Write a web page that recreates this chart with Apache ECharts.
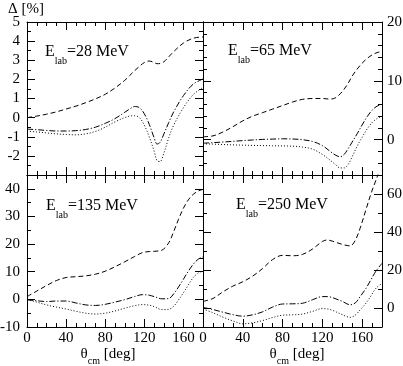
<!DOCTYPE html>
<html><head><meta charset="utf-8">
<script src="https://cdn.jsdelivr.net/npm/echarts@6/dist/echarts.min.js"></script>
<style>html,body{margin:0;padding:0;background:#fff}#c{width:403px;height:366px}</style>
</head><body><div id="c"></div>
<script>
// ---- data (theta in deg, Delta in %) ----
const theta28   = [0,10,20,30,40,50,60,70,80,90,100,105,110,115,120,125,130,133,136,140,145,150,160,170,180];
const dashed28  = [0,0.08,0.18,0.3,0.45,0.6,0.78,0.98,1.22,1.55,1.95,2.2,2.45,2.68,2.88,2.96,2.88,2.82,2.83,2.92,3.18,3.45,3.9,4.15,4.22];
const dashdot28 = [-0.6,-0.63,-0.67,-0.7,-0.7,-0.68,-0.62,-0.5,-0.3,-0.05,0.28,0.45,0.58,0.52,0.2,-0.35,-1.05,-1.38,-1.3,-0.85,-0.25,0.3,1.15,1.75,2.02];
const dotted28  = [-0.7,-0.75,-0.8,-0.85,-0.88,-0.9,-0.85,-0.72,-0.5,-0.22,0.0,0.08,0.1,0.0,-0.4,-1.0,-1.75,-2.25,-2.3,-1.85,-1.05,-0.4,0.52,1.2,1.58];

const theta65   = [0,10,20,30,40,50,60,70,80,90,100,110,120,128,133,138,142,146,150,155,160,165,170,175,180];
const dashed65  = [0.5,0.65,1.3,2.2,3.2,4.0,4.6,5.2,5.8,6.4,6.85,7.0,7.0,6.9,7.1,7.8,8.6,9.6,10.8,12.0,13.0,13.8,14.4,14.8,15.0];
const dashdot65 = [-0.6,-0.5,-0.4,-0.28,-0.15,-0.05,0.05,0.1,0.15,0.12,0.0,-0.3,-1.0,-2.0,-2.6,-2.9,-2.5,-1.5,-0.4,1.0,2.5,3.9,5.0,5.7,6.0];
const dotted65  = [-0.7,-0.75,-0.82,-0.88,-0.93,-0.97,-1.0,-1.03,-1.06,-1.1,-1.25,-1.6,-2.5,-3.5,-4.2,-4.8,-4.8,-4.2,-2.9,-1.1,0.4,1.8,2.9,3.6,4.0];

const theta135   = [0,10,20,30,40,50,60,70,80,90,100,110,118,125,130,138,145,150,155,160,165,170,175,180];
const dashed135  = [1.0,3.0,5.0,6.8,7.9,8.2,8.5,9.1,10.2,11.8,13.6,15.5,16.9,17.3,17.4,17.8,20.5,24.5,29.0,33.0,36.0,38.0,39.2,39.8];
const dashdot135 = [-0.2,-0.5,-0.8,-0.6,-0.6,-1.3,-2.0,-2.2,-1.8,-1.0,-0.1,1.0,1.7,1.5,1.0,0.2,0.3,2.0,4.5,7.3,10.2,12.7,14.5,15.4];
const dotted135  = [0.0,-1.0,-2.0,-2.8,-3.5,-4.3,-5.0,-5.3,-5.0,-4.2,-3.2,-2.3,-1.9,-2.1,-2.6,-3.7,-3.6,-2.5,-0.2,2.4,5.2,7.9,9.5,10.3];

const theta250   = [0,10,20,30,40,50,60,70,80,90,100,110,120,125,130,140,148,153,158,164,169,174,180];
const dashed250  = [3.5,5.0,8.5,11.5,13.8,16.8,20.8,25.5,27.7,27.5,28.2,31.0,35.0,35.8,35.2,33.5,32.7,35.5,42.0,52.0,60.3,67.4,76.0];
const dashdot250 = [0.3,-0.8,-2.2,-3.5,-4.3,-3.6,-2.0,0.5,2.1,2.2,2.5,4.3,6.0,6.0,5.5,3.5,1.7,2.6,6.0,10.4,15.0,19.5,23.5];
const dotted250  = [-0.5,-2.5,-4.8,-6.8,-8.3,-7.8,-6.6,-5.0,-3.8,-3.6,-3.2,-1.8,-0.3,-0.5,-1.2,-3.5,-4.9,-3.8,-1.0,2.6,6.5,10.4,13.0];

// ---- tick labels ----
const xTickLabels = [0,40,80,120,160];
const yLabels28  = [-2,-1,0,1,2,3,4,5];
const yLabels65  = [0,10,20];
const yLabels135 = [-10,0,10,20,30,40];
const yLabels250 = [0,20,40,60];
const energies = ['28','65','135','250'];

// ---- layout / style ----
const FONT = "'Liberation Serif','Times New Roman',serif";
const panels = [
  {grid:{left:27,top:22,width:176,height:153}, yMin:-3, yMax:5, yMajor:[-3,-2,-1,0,1,2,3,4,5], yLab:yLabels28, yStep:0.5, side:'left', xLab:false, th:theta28, s:[dashed28,dashdot28,dotted28], lx:45, ly:37},
  {grid:{left:203,top:22,width:179,height:153}, yMin:-6, yMax:20, yMajor:[0,10,20], yLab:yLabels65, yStep:2, side:'right', xLab:false, th:theta65, s:[dashed65,dashdot65,dotted65], lx:228, ly:36},
  {grid:{left:27,top:175,width:176,height:152}, yMin:-10, yMax:45, yMajor:[-10,0,10,20,30,40], yLab:yLabels135, yStep:5, side:'left', xLab:true, th:theta135, s:[dashed135,dashdot135,dotted135], lx:46, ly:191},
  {grid:{left:203,top:175,width:179,height:152}, yMin:-10, yMax:70, yMajor:[0,20,40,60], yLab:yLabels250, yStep:10, side:'right', xLab:true, th:theta250, s:[dashed250,dashdot250,dotted250], lx:236, ly:190}
];
const styles = [[5,3],[6,2,1.2,2],[1,2]];

function range(a,b,st){const r=[];for(let v=a;v<=b+1e-9;v+=st)r.push(Math.round(v*1000)/1000);return r;}
const black = {color:'#000',width:1};

function axis(gi,pos,min,max,ticks,len,labels,line,margin){
  return {type:'value',gridIndex:gi,position:pos,min:min,max:max,
    axisLine:{show:line,onZero:false,lineStyle:black},
    axisTick:{show:true,inside:true,length:len,customValues:ticks,lineStyle:black},
    axisLabel:{show:!!labels,customValues:labels||[],margin:margin||0,color:'#000',fontSize:15,fontFamily:FONT},
    splitLine:{show:false},minorTick:{show:false}};
}

const grid=[], xAxis=[], yAxis=[], series=[], graphic=[];
panels.forEach((p,i)=>{
  grid.push(Object.assign({containLabel:false,outerBoundsMode:'none'},p.grid));
  const xm = range(0,180,10);
  xAxis.push(axis(i,'bottom',0,180,xTickLabels,8,p.xLab?xTickLabels:null,true,4));
  xAxis.push(axis(i,'top',0,180,xTickLabels,8,null,true));
  xAxis.push(axis(i,'bottom',0,180,xm,4,null,false));
  xAxis.push(axis(i,'top',0,180,xm,4,null,false));
  const ym = range(p.yMin,p.yMax,p.yStep);
  yAxis.push(axis(i,'left',p.yMin,p.yMax,p.yMajor,8,p.side==='left'?p.yLab:null,true,7));
  yAxis.push(axis(i,'right',p.yMin,p.yMax,p.yMajor,8,p.side==='right'?p.yLab:null,true,5));
  yAxis.push(axis(i,'left',p.yMin,p.yMax,ym,4,null,false));
  yAxis.push(axis(i,'right',p.yMin,p.yMax,ym,4,null,false));
  p.s.forEach((vals,k)=>{
    series.push({type:'line',xAxisIndex:4*i,yAxisIndex:4*i,symbol:'none',smooth:0.35,clip:true,
      lineStyle:{color:'#000',width:1,type:styles[k]},
      data:p.th.map((t,j)=>[t,vals[j]])});
  });
  graphic.push({type:'text',x:p.lx,y:p.ly,style:{
    text:'{m|E}{s|lab}{m|='+energies[i]+' MeV}',textVerticalAlign:'top',
    rich:{m:{fontSize:16,fontFamily:FONT,fill:'#000',lineHeight:30},
          s:{fontSize:10,fontFamily:FONT,fill:'#000',padding:[18,0,0,0],lineHeight:12}}}});
});
graphic.push({type:'text',x:8,y:2,style:{text:'Δ [%]',font:'15px '+FONT,fill:'#000'}});
[[108,341],[297,341]].forEach(c=>{
  graphic.push({type:'text',x:c[0],y:c[1],style:{
    text:'{m|θ}{s|cm}{m| [deg]}',textAlign:'center',textVerticalAlign:'top',
    rich:{m:{fontSize:15,fontFamily:FONT,fill:'#000',lineHeight:26},
          s:{fontSize:10,fontFamily:FONT,fill:'#000',padding:[15,0,0,0],lineHeight:12}}}});
});

const chart = echarts.init(document.getElementById('c'),null,{renderer:'canvas'});
chart.setOption({animation:false,backgroundColor:'#fff',grid,xAxis,yAxis,series,graphic});
</script></body></html>
